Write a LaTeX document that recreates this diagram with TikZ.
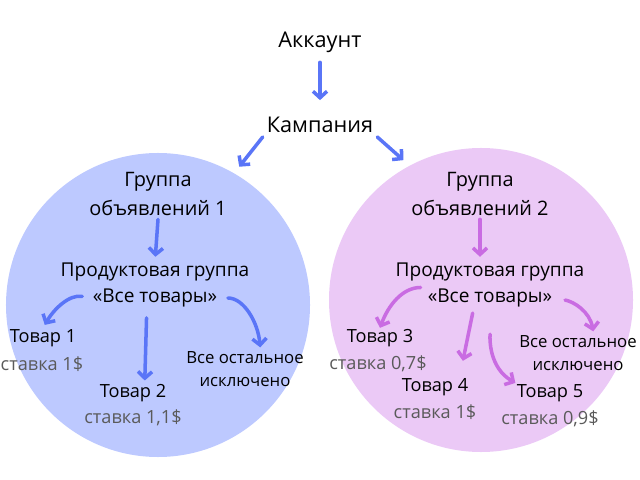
\documentclass[tikz,border=0pt]{standalone}
\usepackage{fontspec}
\setmainfont{Open Sans}
\usepackage{tikz}
\usetikzlibrary{arrows.meta, positioning}

\definecolor{blobblue}{HTML}{BDC9FF}
\definecolor{blobpink}{HTML}{EBC9F6}
\definecolor{arrblue}{HTML}{5A75F7}
\definecolor{arrpink}{HTML}{C96CE2}
\definecolor{rategray}{HTML}{5A5A5A}

\begin{document}
\begin{tikzpicture}[
  x=0.03cm, y=-0.03cm,
  head/.style={font=\fontsize{18.5}{21}\selectfont},
  grp/.style={font=\fontsize{17}{24}\selectfont, align=center},
  pg/.style={font=\fontsize{16.3}{19}\selectfont, inner sep=1pt},
  item/.style={font=\fontsize{15.5}{18}\selectfont, inner sep=1pt},
  rate/.style={font=\fontsize{15.5}{18}\selectfont, text=rategray, inner sep=1pt},
  rest/.style={font=\fontsize{14.3}{19.5}\selectfont, align=center},
  blob/.style={circle, minimum size=9.12cm, inner sep=0pt},
  arr/.style={-{Straight Barb[length=5.5pt, width=12pt]}, line width=3pt,
              line cap=round, line join=round},
]
  \useasboundingbox (0,0) rectangle (640,480);

  % the two ad groups
  \node[blob, fill=blobblue] (c1) at (158,305) {};
  \node[blob, fill=blobpink] (c2) at (481,300) {};

  \node[head] (akk)  at (320,42)  {Аккаунт};
  \node[head] (kamp) at (320,125) {Кампания};

  \node[grp] (g1) at (158,194) {Группа\\объявлений 1};
  \node[grp] (g2) at (480,194) {Группа\\объявлений 2};

  \node[pg] (pg1)  at (155,272) {Продуктовая группа};
  \node[pg] (all1) at (155,298) {«Все товары»};
  \node[pg] (pg2)  at (490,272) {Продуктовая группа};
  \node[pg] (all2) at (490,298) {«Все товары»};

  % products, group 1
  \node[item] (t1) at (43,338)  {Товар 1};
  \node[rate] (r1) at (42,364)  {ставка 1\$};
  \node[item] (t2) at (133,393) {Товар 2};
  \node[rate] (r2) at (133,418) {ставка 1,1\$};
  \node[rest] (rest1) at (245,369) {Все остальное\\исключено};

  % products, group 2
  \node[item] (t3) at (380,338) {Товар 3};
  \node[rate] (r3) at (378,364) {ставка 0,7\$};
  \node[item] (t4) at (435,387) {Товар 4};
  \node[rate] (r4) at (435,412) {ставка 1\$};
  \node[item] (t5) at (550,393) {Товар 5};
  \node[rate] (r5) at (550,419) {ставка 0,9\$};
  \node[rest] (rest2) at (578,353) {Все остальное\\исключено};

  \draw[arr, arrblue, shorten <=5pt, shorten >=11pt] (akk.south) -- (kamp.north);
  \draw[arr, arrblue, shorten >=7pt] (kamp.south west) -- (c1.60);
  \draw[arr, arrblue, shorten >=7pt] (kamp.south east) -- (c2.118);

  \draw[arr, arrblue, shorten >=4pt] (g1.south) -- (pg1.north);
  \draw[arr, arrblue, shorten <=8pt, shorten >=3pt] (all1.west) to[out=170, in=60] (t1.north);
  \draw[arr, arrblue, shorten <=8pt, shorten >=2pt] ([xshift=-7pt]all1.south) -- ([xshift=10pt]t2.north);
  \draw[arr, arrblue, shorten <=8pt] (all1.east) to[out=0, in=95] ([xshift=13pt]rest1.north);

  \draw[arr, arrpink, shorten >=4pt] (g2.south) -- (g2.south |- pg2.north);
  \draw[arr, arrpink, shorten <=5pt] (all2.north west) to[out=180, in=70] (t3.north);
  \draw[arr, arrpink, shorten <=4pt, shorten >=14pt] ([xshift=-14pt]all2.south) -- ([xshift=21pt]t4.north);
  \draw[arr, arrpink, shorten <=22pt] ([xshift=2pt]all2.south) to[out=-95, in=150] (t5.north west);
  \draw[arr, arrpink, shorten <=10pt] (all2.east) to[out=-10, in=100] ([xshift=13pt]rest2.north);
\end{tikzpicture}
\end{document}
